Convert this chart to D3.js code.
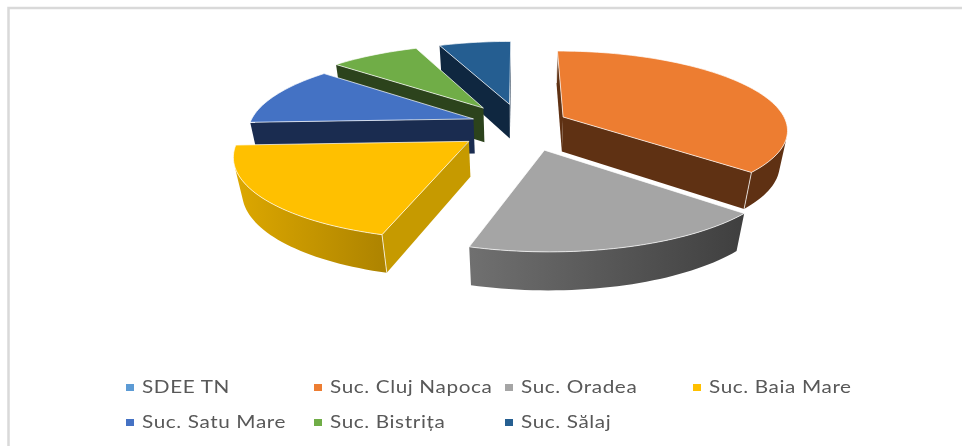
<!DOCTYPE html>
<html><head><meta charset="utf-8">
<script src="https://cdn.jsdelivr.net/npm/d3@7/dist/d3.min.js"></script>
<style>html,body{margin:0;padding:0;background:#fff}svg{display:block}</style>
</head><body><svg id="c" width="962" height="446"></svg>
<script>
const categories=["SDEE TN","Suc. Cluj Napoca","Suc. Oradea","Suc. Baia Mare","Suc. Satu Mare","Suc. Bistrița","Suc. Sălaj"];
const values=[0,36.5,18.15,19.65,12,7.6,6.1];
const topColors=["#5B9BD5","#ED7D31","#A5A5A5","#FFC000","#4472C4","#70AD47","#255E91"];
const flatWall=["#1F4E79","#5F3113","#444444","#C69A00","#1A2C50","#2C431C","#0F2740"];
const arcFrom=["#1F4E79","#5F3113","#707070","#DDA800","#1A2C50","#2C431C","#0F2740"];
const arcTo=["#1F4E79","#5F3113","#3F3F3F","#AE8400","#1A2C50","#2C431C","#0F2740"];
const legendRows=[[0,1,2,3],[4,5,6]];
const explodeShift=[0,-0.01,0.045,-0.035,0.012,-0.03,0];
const svg=d3.select("#c");
const defs=svg.append("defs");
defs.append("filter").attr("id","soft").append("feGaussianBlur").attr("stdDeviation",0.35);
svg.append("path").attr("d","M8.5,446V8H962").attr("fill","none").attr("stroke","#D9D9D9").attr("stroke-width",2.5);
const P={cx:519,cy:126.5,f:225,fk:78.5,fh:36,p:0.15,q:0.03,du:0.23,dv:0.3};
function proj(u,v,z){const w=1+P.p*v+P.q*z;return [P.cx+P.f*u/w,P.cy+(-P.fk*v+P.fh*z)/w];}
const pie=d3.pie().sort(null).value(d=>d)(values);
const order=[6,5,4,1,3,2];
const line=d3.line();
const g=svg.append("g");
order.forEach(i=>{
  const s=pie[i];const mid=(s.startAngle+s.endAngle)/2;
  const ou=P.du*Math.sin(mid)+explodeShift[i],ov=P.dv*Math.cos(mid);
  const pt=(a,r,z)=>proj(ou+r*Math.sin(a),ov+r*Math.cos(a),z);
  const n=Math.max(8,Math.ceil((s.endAngle-s.startAngle)/0.03));
  const angs=d3.range(n+1).map(k=>s.startAngle+(s.endAngle-s.startAngle)*k/n);
  const topPoly=[pt(0,0,0)].concat(angs.map(a=>pt(a,1,0)));
  const midTop=pt(mid,0.5,0);
  const walls=[s.startAngle,s.endAngle].map(a=>{
    const q=[pt(a,0,0),pt(a,1,0),pt(a,1,1),pt(a,0,1)];
    const A=q[0],B=q[1];
    const cross=(B[0]-A[0])*(midTop[1]-A[1])-(B[1]-A[1])*(midTop[0]-A[0]);
    const crossD=(B[0]-A[0])*10;
    return {q,a,visible:cross*crossD<0};
  });
  walls.filter(w=>w.visible).forEach(w=>{
    g.append("path").attr("d",line(w.q)+"Z").attr("fill",flatWall[i]);
  });
  const xs=[];const segs=[];
  for(let k=0;k<n;k++){
    const A=pt(angs[k],1,0),B=pt(angs[k+1],1,0),D=pt(angs[k],1,1),C=pt(angs[k+1],1,1);
    const cr=(B[0]-A[0])*(D[1]-A[1])-(B[1]-A[1])*(D[0]-A[0]);
    if(cr<0){segs.push([A,B,C,D]);xs.push(A[0],B[0]);}
  }
  if(segs.length){
    const id="arc"+i;
    const lg=defs.append("linearGradient").attr("id",id).attr("gradientUnits","userSpaceOnUse")
      .attr("x1",d3.min(xs)).attr("x2",d3.max(xs)).attr("y1",0).attr("y2",0);
    lg.append("stop").attr("offset",0).attr("stop-color",arcFrom[i]);
    lg.append("stop").attr("offset",1).attr("stop-color",arcTo[i]);
    const topPts=segs.map(q=>q[0]).concat([segs[segs.length-1][1]]);
    const botPts=segs.map(q=>q[3]).concat([segs[segs.length-1][2]]);
    g.append("path").attr("d",line(topPts.concat(botPts.reverse()))+"Z").attr("fill","url(#"+id+")");
    walls.filter(w=>w.visible).forEach(w=>{
      g.append("path").attr("d",line([pt(w.a,1,0),pt(w.a,1,1)])).attr("stroke","#fff").attr("stroke-opacity",.75).attr("stroke-width",1).attr("fill","none");
    });
  }
  g.append("path").attr("d",line(topPoly)+"Z").attr("fill",topColors[i]).attr("stroke","#fff").attr("stroke-opacity",.7).attr("stroke-width",1).attr("stroke-linejoin","round");
});
const legX=d3.scaleOrdinal().domain([0,1,2,3]).range([142,330,521,709]);
const legY=d3.scaleOrdinal().domain([0,1]).range([387,422]);
const leg=svg.append("g").attr("filter","url(#soft)");
legendRows.forEach((row,r)=>row.forEach((c,j)=>{
  leg.append("rect").attr("x",legX(j)-16).attr("y",legY(r)-3).attr("width",8).attr("height",7).attr("fill",topColors[c]);
  leg.append("text").attr("transform",`translate(${legX(j)},${legY(r)+6}) scale(1.22,1)`).attr("font-family","Lato").attr("font-size",17).attr("letter-spacing",0.5).attr("fill","#595959").text(categories[c]);
}));
</script></body></html>
